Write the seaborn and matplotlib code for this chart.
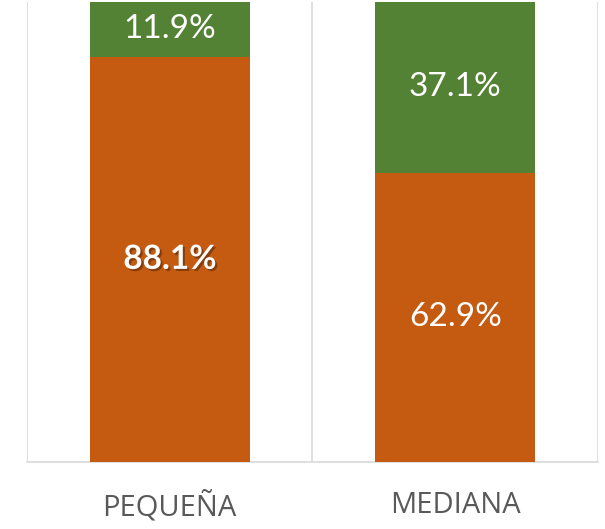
import pandas as pd
import seaborn as sns
import matplotlib.pyplot as plt
import matplotlib.patheffects as pe

# Data
categories = ["PEQUEÑA", "MEDIANA"]
bottom_share = [88.1, 62.9]   # orange
top_share = [11.9, 37.1]      # green

df = pd.DataFrame({"size": categories, "bottom": bottom_share, "top": top_share})
df["total"] = df["bottom"] + df["top"]

sns.set_style("white")
plt.rcParams["font.family"] = ["Lato", "DejaVu Sans"]

fig = plt.figure(figsize=(6.05, 5.29), dpi=100)
ax = fig.add_axes([0.0446, 0.1267, 0.9438, 0.8695])

# stacked bars: draw the total in green, then the bottom part over it
sns.barplot(data=df, x="size", y="total", color="#548235", width=0.56,
            saturation=1, linewidth=0, ax=ax, zorder=2)
sns.barplot(data=df, x="size", y="bottom", color="#C55A11", width=0.56,
            saturation=1, linewidth=0, ax=ax, zorder=3)

ax.set_xlim(-0.5, 1.5)
ax.set_ylim(0, 100)

# separators between categories
for xv in [-0.5, 0.5, 1.5]:
    ax.axvline(xv, color="#D9D9D9", lw=1.2, zorder=1)

for s in ["top", "right", "left"]:
    ax.spines[s].set_visible(False)
ax.spines["bottom"].set_color("#D9D9D9")
ax.spines["bottom"].set_linewidth(1.2)

# labels
for i, row in df.iterrows():
    b, t = row["bottom"], row["top"]
    bold = i == 0
    txt = ax.text(i, b / 2, f"{b:.1f}%", ha="center", va="center",
                  color="white", fontsize=24,
                  fontweight="bold" if bold else "normal", zorder=5)
    if bold:
        txt.set_path_effects([pe.withSimplePatchShadow(offset=(1.5, -1.5),
                                                       shadow_rgbFace="#5a2a08",
                                                       alpha=0.6)])
    ax.text(i, b + t / 2, f"{t:.1f}%", ha="center", va="center",
            color="white", fontsize=24, zorder=5)

ax.set_yticks([])
ax.set_xlabel("")
ax.set_ylabel("")
ax.tick_params(axis="x", length=0, pad=21, labelsize=21, labelcolor="#595959")
for lbl in ax.get_xticklabels():
    lbl.set_fontfamily(["Open Sans", "DejaVu Sans"])

plt.savefig("out.png", dpi=100)
